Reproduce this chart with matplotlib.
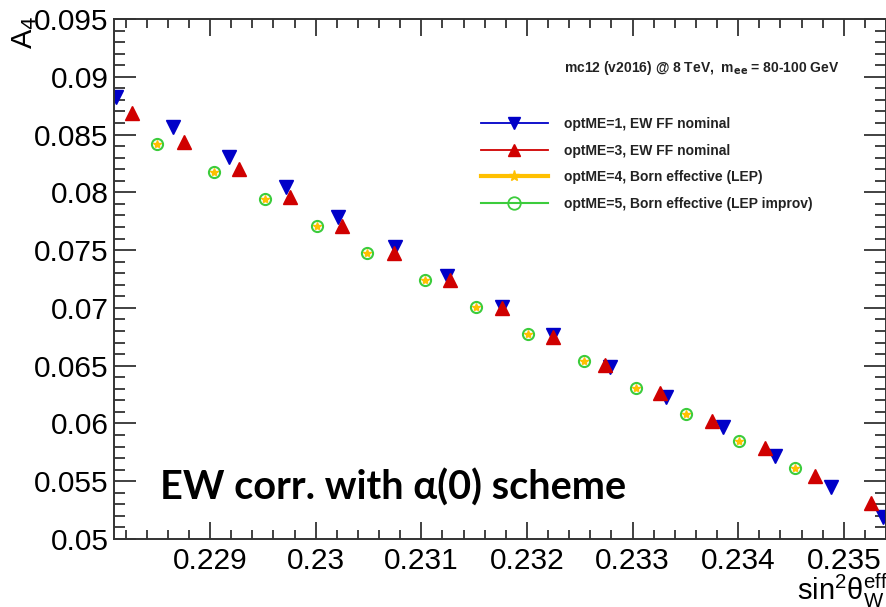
import matplotlib
matplotlib.use("Agg")
import matplotlib.pyplot as plt
from matplotlib.ticker import MultipleLocator, FormatStrFormatter
from matplotlib.lines import Line2D

# data
x_opt1 = [0.22811, 0.22865, 0.22918, 0.22972, 0.23021, 0.23075, 0.23124, 0.23176,
          0.23225, 0.23279, 0.23332, 0.23386, 0.23435, 0.23488, 0.23537]
y_opt1 = [0.08825, 0.08565, 0.08306, 0.08046, 0.07787, 0.07527, 0.07276, 0.07008,
          0.06765, 0.06489, 0.06229, 0.05969, 0.05718, 0.05450, 0.05190]

x_opt3 = [0.22826, 0.22875, 0.22927, 0.22976, 0.23025, 0.23074, 0.23127, 0.23176,
          0.23225, 0.23274, 0.23326, 0.23375, 0.23425, 0.23473, 0.23526]
y_opt3 = [0.08687, 0.08436, 0.08202, 0.07960, 0.07709, 0.07475, 0.07241, 0.07000,
          0.06748, 0.06506, 0.06264, 0.06021, 0.05788, 0.05545, 0.05312]

x_opt45 = [0.22850, 0.22904, 0.22952, 0.23001, 0.23049, 0.23103, 0.23152,
           0.23201, 0.23254, 0.23303, 0.23351, 0.23401, 0.23454]
y_opt45 = [0.08418, 0.08176, 0.07942, 0.07709, 0.07475, 0.07241, 0.07008,
           0.06774, 0.06540, 0.06307, 0.06082, 0.05848, 0.05615]

labels = ["optME=1, EW FF nominal",
          "optME=3, EW FF nominal",
          "optME=4, Born effective (LEP)",
          "optME=5, Born effective (LEP improv)"]

blue = "#0000c8"
red = "#d00000"
yellow = "#ffc000"
green = "#3ccc3c"

plt.rcParams['font.family'] = ['Liberation Sans', 'DejaVu Sans']

fig = plt.figure(figsize=(8.87, 6.07), dpi=100)
ax = fig.add_axes([0.1285, 0.112, 0.8705, 0.8567])

ax.plot(x_opt1, y_opt1, ls='none', marker='v', ms=9.5, color=blue, mec=blue)
ax.plot(x_opt3, y_opt3, ls='none', marker='^', ms=9.5, color=red, mec=red)
ax.plot(x_opt45, y_opt45, ls='none', marker='o', ms=8, mfc='none', mec=green, mew=1.5)
ax.plot(x_opt45, y_opt45, ls='none', marker='*', ms=6, color=yellow)

ax.set_xlim(0.22809, 0.23540)
ax.set_ylim(0.05, 0.095)

ax.xaxis.set_major_locator(MultipleLocator(0.001))
ax.xaxis.set_minor_locator(MultipleLocator(0.0002))
ax.yaxis.set_major_locator(MultipleLocator(0.005))
ax.yaxis.set_minor_locator(MultipleLocator(0.001))
ax.xaxis.set_major_formatter(FormatStrFormatter('%g'))
ax.yaxis.set_major_formatter(FormatStrFormatter('%g'))

ax.tick_params(which='both', direction='in', top=True, right=True,
               labelsize=21.5, color='#333333', width=1.3)
ax.tick_params(axis='x', which='major', length=12, pad=6)
ax.tick_params(axis='x', which='minor', length=6.5)
ax.tick_params(axis='y', which='major', length=16, pad=4)
ax.tick_params(axis='y', which='minor', length=8)
for s in ax.spines.values():
    s.set_linewidth(1.4)
    s.set_color('#333333')

# axis titles, ROOT style
fig.text(0.012, 0.975, r"A$_4$", rotation=90, fontsize=21, ha='left', va='top')
fig.text(0.898, -0.005, r"$\mathregular{sin^{2}θ_{W}^{eff}}$", fontsize=21,
         ha='left', va='bottom')

# legend
handles = [
    Line2D([], [], color=blue, lw=1.3, marker='v', ms=9, mec=blue),
    Line2D([], [], color=red, lw=1.3, marker='^', ms=9, mec=red),
    Line2D([], [], color=yellow, lw=3, marker='*', ms=8, mec=yellow),
    Line2D([], [], color=green, lw=1.5, marker='o', ms=9, mfc='none', mec=green, mew=1.3),
]
leg = fig.legend(handles, labels, loc='upper left', bbox_to_anchor=(0.5423, 0.807),
                 frameon=False, prop={'size': 10, 'weight': 'bold'},
                 handlelength=4.8, handletextpad=1.15, labelspacing=0.9,
                 borderpad=0, borderaxespad=0)
for t in leg.get_texts():
    t.set_color('#222222')

fig.text(0.636, 0.888, r"mc12 (v2016) @ 8 TeV,  m$_{\mathbf{ee}}$ = 80-100 GeV",
         fontsize=10, fontweight='bold', color='#222222', ha='left', va='center')

fig.text(0.18, 0.196, "EW corr. with α(0) scheme", fontsize=28.5, fontweight='bold',
         family=['Lato', 'DejaVu Sans'], ha='left', va='center')

fig.savefig("out.png", dpi=100)
